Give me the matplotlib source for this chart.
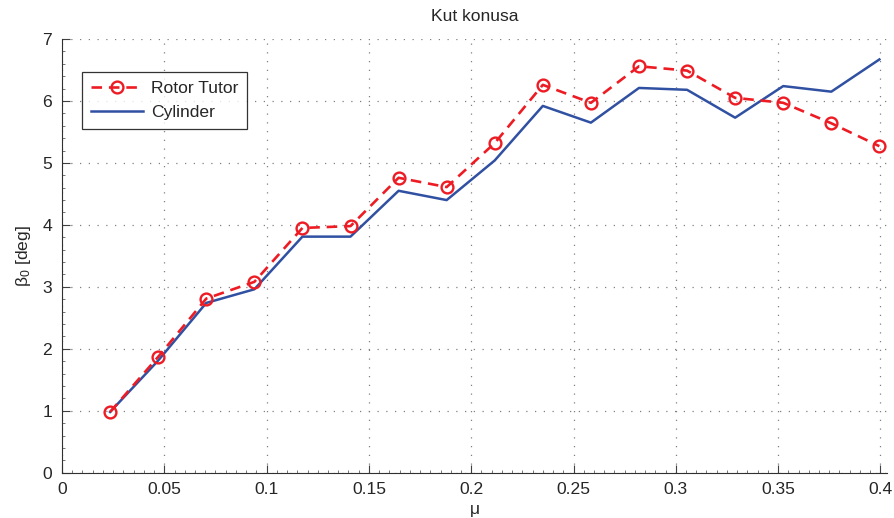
import matplotlib
matplotlib.use("Agg")
import matplotlib.pyplot as plt
from matplotlib.ticker import MultipleLocator

plt.rcParams['font.family'] = ['Liberation Sans', 'DejaVu Sans']
plt.rcParams['mathtext.fontset'] = 'custom'
plt.rcParams['mathtext.rm'] = 'Liberation Sans'
plt.rcParams['mathtext.it'] = 'Liberation Sans:italic'

# advance ratio
mu = [0.0235, 0.047, 0.0705, 0.094, 0.1175, 0.141, 0.1645, 0.188, 0.2115,
      0.235, 0.2585, 0.282, 0.3055, 0.329, 0.3525, 0.376, 0.3995]

# coning angle [deg]
rotor_tutor = [0.98, 1.87, 2.81, 3.08, 3.95, 3.98, 4.76, 4.61, 5.32,
               6.26, 5.97, 6.56, 6.49, 6.05, 5.97, 5.64, 5.27]
cylinder = [0.98, 1.81, 2.74, 2.96, 3.81, 3.81, 4.55, 4.40, 5.04,
            5.92, 5.65, 6.21, 6.18, 5.73, 6.24, 6.15, 6.67]

xticks = [0, 0.05, 0.1, 0.15, 0.2, 0.25, 0.3, 0.35, 0.4]
xticklabels = ['0', '0.05', '0.1', '0.15', '0.2', '0.25', '0.3', '0.35', '0.4']
yticks = [0, 1, 2, 3, 4, 5, 6, 7]

fs = 12.6
txt = '#262626'

fig = plt.figure(figsize=(8.95, 5.18), dpi=100)
ax = fig.add_axes([0.0693, 0.0875, 0.9217, 0.8372])

ax.plot(mu, rotor_tutor, color='#ED1C24', lw=1.9, linestyle=(0, (4, 2.6)),
        marker='o', markersize=8.5, markerfacecolor='none',
        markeredgewidth=1.7, label='Rotor Tutor', zorder=3)
ax.plot(mu, cylinder, color='#3050A2', lw=1.8, label='Cylinder', zorder=2)

ax.set_xlim(0, 0.4032)
ax.set_ylim(0, 7)
ax.set_xticks(xticks)
ax.set_xticklabels(xticklabels)
ax.set_yticks(yticks)
ax.xaxis.set_minor_locator(MultipleLocator(0.005))
ax.yaxis.set_minor_locator(MultipleLocator(0.2))

ax.tick_params(which='major', direction='in', length=6, width=0.8,
               color='#404040', labelsize=fs, labelcolor=txt)
ax.tick_params(axis='x', which='major', pad=7)
ax.tick_params(axis='y', which='major', pad=7)
ax.tick_params(which='minor', direction='in', length=2.2, width=0.6,
               color='#606060')
ax.tick_params(axis='y', which='both', left=True, right=False)
ax.tick_params(axis='x', which='both', bottom=True, top=False)

ax.grid(True, which='major', color='#808080', linestyle=(0, (1, 6)),
        linewidth=0.9)
ax.set_axisbelow(True)

for side in ['top', 'right']:
    ax.spines[side].set_visible(False)
for side in ['left', 'bottom']:
    ax.spines[side].set_color('#303030')
    ax.spines[side].set_linewidth(0.8)

ax.set_title('Kut konusa', fontsize=fs, color=txt, pad=13)
ax.set_xlabel('μ', fontsize=fs, color=txt, labelpad=3)
ax.set_ylabel(r'β$_\mathregular{0}$ [deg]', fontsize=fs, color=txt, labelpad=7)

leg = ax.legend(loc='upper left', bbox_to_anchor=(0.024, 0.924),
                fontsize=fs, frameon=True, fancybox=False, borderaxespad=0,
                handlelength=3.0, handletextpad=0.45, borderpad=0.5,
                labelspacing=0.5)
leg.get_frame().set_edgecolor('black')
leg.get_frame().set_linewidth(0.9)
for t in leg.get_texts():
    t.set_color(txt)

fig.savefig('out.png', dpi=100)
